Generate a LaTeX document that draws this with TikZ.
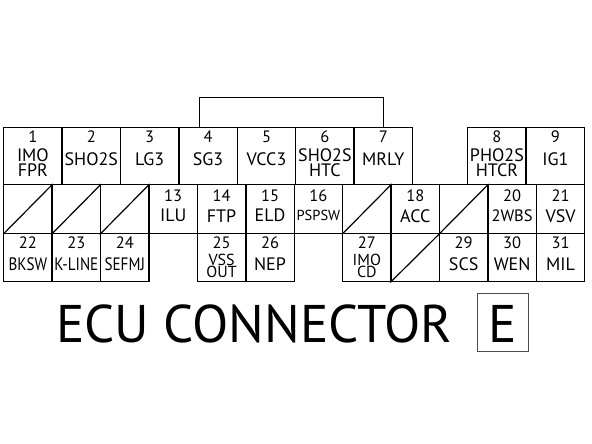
\documentclass[tikz,border=0pt]{standalone}
\usepackage{graphicx}
\usepackage{fontspec}
\setmainfont{PT Sans}
\newcommand{\squeeze}[1]{\scalebox{0.84}[1]{#1}}
\tikzset{
  pincell/.style={draw, line width=1.4pt, anchor=north west, inner sep=0pt},
  wide/.style={pincell, minimum width=58.4pt, minimum height=57.5pt},
  narrow/.style={pincell, minimum width=48.42pt, minimum height=#1},
  num/.style={font=\fontsize{16.5}{16.5}\selectfont, inner sep=0pt},
  lbl/.style={font=\fontsize{18}{15}\selectfont, align=center, inner sep=0pt},
  small/.style={font=\fontsize{14.5}{14.5}\selectfont},
  medium/.style={font=\fontsize{16.5}{16.5}\selectfont},
  tight/.style={font=\fontsize{16}{12.5}\selectfont},
  pinno/.style 2 args={label={[num,anchor=center,yshift=-#1]north:#2}},
}
\begin{document}
\begin{tikzpicture}[x=1pt,y=-1pt]
  \useasboundingbox (0,0) rectangle (592,444);

  % row 1
  \node[wide,pinno={10pt}{1},label={[lbl,anchor=center,yshift=-6.5pt]center:IMO\\FPR}] (p1) at (3,126.5) {};
  \node[wide,pinno={10pt}{2},label={[lbl,anchor=center,yshift=-3.5pt]center:SHO2S}] (p2) at (61.4,126.5) {};
  \node[wide,pinno={10pt}{3},label={[lbl,anchor=center,yshift=-3.5pt]center:LG3}] (p3) at (119.8,126.5) {};
  \node[wide,pinno={10pt}{4},label={[lbl,anchor=center,yshift=-3.5pt]center:SG3}] (p4) at (178.2,126.5) {};
  \node[wide,pinno={10pt}{5},label={[lbl,anchor=center,yshift=-3.5pt]center:VCC3}] (p5) at (236.6,126.5) {};
  \node[wide,pinno={10pt}{6},label={[lbl,anchor=center,yshift=-6.5pt]center:SHO2S\\HTC}] (p6) at (295,126.5) {};
  \node[wide,pinno={10pt}{7},label={[lbl,anchor=center,yshift=-3.5pt]center:MRLY}] (p7) at (353.4,126.5) {};
  \node[wide,pinno={10pt}{8},label={[lbl,anchor=center,yshift=-6.5pt]center:PHO2S\\HTCR}] (p8) at (467,126.5) {};
  \node[wide,pinno={10pt}{9},label={[lbl,anchor=center,yshift=-3.5pt]center:IG1}] (p9) at (525.5,126.5) {};

  % row 2
  \node[narrow=49pt] (p10) at (3,184) {};
  \node[narrow=49pt] (p11) at (51.42,184) {};
  \node[narrow=49pt] (p12) at (99.84,184) {};
  \node[narrow=49pt,pinno={12pt}{13},label={[lbl,anchor=center,yshift=-6.5pt]center:ILU}] (p13) at (148.26,184) {};
  \node[narrow=49pt,pinno={12pt}{14},label={[lbl,anchor=center,yshift=-6.5pt]center:FTP}] (p14) at (196.68,184) {};
  \node[narrow=49pt,pinno={12pt}{15},label={[lbl,anchor=center,yshift=-6.5pt]center:ELD}] (p15) at (245.1,184) {};
  \node[narrow=49pt,pinno={12pt}{16},label={[lbl,small,anchor=center,yshift=-6.5pt]center:PSPSW}] (p16) at (293.52,184) {};
  \node[narrow=49pt] (p17) at (341.94,184) {};
  \node[narrow=49pt,pinno={12pt}{18},label={[lbl,anchor=center,yshift=-6.5pt]center:ACC}] (p18) at (390.36,184) {};
  \node[narrow=49pt] (p19) at (438.78,184) {};
  \node[narrow=49pt,pinno={12pt}{20},label={[lbl,medium,anchor=center,yshift=-6.5pt]center:2WBS}] (p20) at (487.2,184) {};
  \node[narrow=49pt,pinno={12pt}{21},label={[lbl,anchor=center,yshift=-6.5pt]center:VSV}] (p21) at (535.62,184) {};

  % row 3
  \node[narrow=48pt,pinno={10pt}{22},label={[lbl,anchor=center,yshift=-6.5pt]center:\squeeze{BKSW}}] (p22) at (3,233) {};
  \node[narrow=48pt,pinno={10pt}{23},label={[lbl,anchor=center,yshift=-6.5pt]center:\squeeze{K-LINE}}] (p23) at (51.42,233) {};
  \node[narrow=48pt,pinno={10pt}{24},label={[lbl,anchor=center,yshift=-6.5pt]center:\squeeze{SEFMJ}}] (p24) at (99.84,233) {};
  \node[narrow=48pt,pinno={10pt}{25},label={[lbl,tight,anchor=center,yshift=-8pt]center:VSS\\OUT}] (p25) at (196.68,233) {};
  \node[narrow=48pt,pinno={10pt}{26},label={[lbl,anchor=center,yshift=-6.5pt]center:NEP}] (p26) at (245.1,233) {};
  \node[narrow=48pt,pinno={10pt}{27},label={[lbl,tight,anchor=center,yshift=-8pt]center:IMO\\CD}] (p27) at (341.94,233) {};
  \node[narrow=48pt] (p28) at (390.36,233) {};
  \node[narrow=48pt,pinno={10pt}{29},label={[lbl,anchor=center,yshift=-6.5pt]center:SCS}] (p29) at (438.78,233) {};
  \node[narrow=48pt,pinno={10pt}{30},label={[lbl,anchor=center,yshift=-6.5pt]center:WEN}] (p30) at (487.2,233) {};
  \node[narrow=48pt,pinno={10pt}{31},label={[lbl,anchor=center,yshift=-6.5pt]center:MIL}] (p31) at (535.62,233) {};

  % unused cavities
  \draw[line width=1.2pt] (p10.south west) -- (p10.north east);
  \draw[line width=1.2pt] (p11.south west) -- (p11.north east);
  \draw[line width=1.2pt] (p12.south west) -- (p12.north east);
  \draw[line width=1.2pt] (p17.south west) -- (p17.north east);
  \draw[line width=1.2pt] (p19.south west) -- (p19.north east);
  \draw[line width=1.2pt] (p28.south west) -- (p28.north east);

  % lock bracket
  \draw[line width=1pt] ([xshift=-9pt]p4.north) -- ++(0,-29) -| (p7.north);

  % title
  \node[font=\fontsize{53}{53}\selectfont, anchor=base west, inner sep=0pt] (title) at (56,342) {ECU CONNECTOR};
  \node[draw=black!70, line width=0.6pt, minimum width=51pt, minimum height=58pt, inner sep=0pt] (conn) at (502.5,322) {};
  \node[font=\fontsize{53}{53}\selectfont, anchor=base, inner sep=0pt] (letter) at (502.5,342) {E};
\end{tikzpicture}
\end{document}
